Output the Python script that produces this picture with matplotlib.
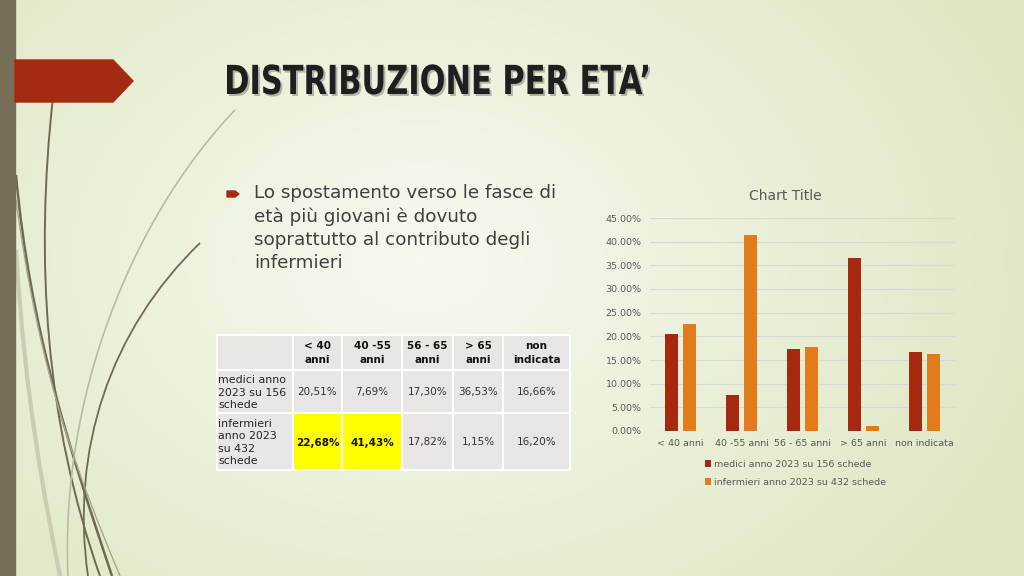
import numpy as np
import matplotlib
matplotlib.use('Agg')
import matplotlib.pyplot as plt
from matplotlib.patches import Rectangle, Polygon, PathPatch
from matplotlib.path import Path
from matplotlib.textpath import TextPath
from matplotlib.font_manager import FontProperties
from matplotlib.transforms import Affine2D

# data
categories = ['< 40 anni', '40 -55 anni', '56 - 65 anni', '> 65 anni', 'non indicata']
header_labels = ['< 40\nanni', '40 -55\nanni', '56 - 65\nanni', '> 65\nanni', 'non\nindicata']
medici = [20.51, 7.69, 17.30, 36.53, 16.66]
infermieri = [22.68, 41.43, 17.82, 1.15, 16.20]
series_names = ['medici anno 2023 su 156 schede', 'infermieri anno 2023 su 432 schede']
row_labels = ['medici anno\n2023 su 156\nschede', 'infermieri\nanno 2023\nsu 432\nschede']
highlight = [(1, 0), (1, 1)]  # (row, col) yellow cells
bullet_text = 'Lo spostamento verso le fasce di\netà più giovani è dovuto\nsoprattutto al contributo degli\ninfermieri'
title = 'DISTRIBUZIONE PER ETA\u2019'

RED = '#a5290f'
ORANGE = '#e07d1a'
GRAY = '#595959'

W, H = 1024, 576
fig = plt.figure(figsize=(W / 100, H / 100), dpi=100)

# background in pixel coordinates
bg = fig.add_axes([0, 0, 1, 1])
bg.set_xlim(0, W)
bg.set_ylim(H, 0)
bg.axis('off')
yy, xx = np.mgrid[0:H, 0:W]
d = np.sqrt(((xx - 420) / 700.0) ** 2 + ((yy - 260) / 520.0) ** 2)
d = np.clip(d, 0, 1)[..., None]
inner = np.array([247, 249, 240]) / 255.0
outer = np.array([220, 230, 192]) / 255.0
img = inner * (1 - d) + outer * d
bg.imshow(img, extent=(0, W, H, 0), aspect='auto', zorder=0)

# left strip and banner
bg.add_patch(Rectangle((0, 0), 15, H, color='#776f58', zorder=2))
bg.add_patch(Polygon([(15, 60), (113, 60), (133, 81), (113, 102), (15, 102)],
                     closed=True, color='#a52a12', zorder=2))

# decorative curves
def curve(pts, color, lw, alpha=1.0):
    codes = [Path.MOVETO] + [Path.CURVE4] * (len(pts) - 1)
    bg.add_patch(PathPatch(Path(pts, codes), fill=False, edgecolor=color,
                           lw=lw, alpha=alpha, zorder=1))

curve([(16, 175), (30, 330), (70, 450), (112, 576)], '#6f6a52', 1.8)
curve([(53, 97), (35, 260), (45, 420), (100, 576)], '#6f6a52', 1.4)
curve([(200, 243), (110, 330), (70, 450), (88, 576)], '#6f6a52', 1.3)
curve([(235, 110), (130, 220), (60, 400), (68, 576)], '#b9bca4', 1.2)
curve([(16, 250), (25, 400), (45, 500), (60, 576)], '#c9cdb3', 3.0)
curve([(16, 200), (40, 380), (80, 480), (120, 576)], '#a8a88e', 1.0)

# title drawn as a horizontally condensed text path
tp = TextPath((0, 0), title, size=40, prop=FontProperties(family='DejaVu Sans', weight='bold'))
ext = tp.get_extents()
sx = 421.0 / ext.width
for dx, dy, col, a in [(2, 2, '#000000', 0.25), (0, 0, '#1f1f1f', 1.0)]:
    tr = Affine2D().translate(-ext.x0, 0).scale(sx, -1).translate(227 + dx, 94 + dy)
    bg.add_patch(PathPatch(tr.transform_path(tp), facecolor=col, edgecolor='none',
                           alpha=a, zorder=3))

# bullet
bg.add_patch(Polygon([(227, 191), (235, 191), (239, 194), (235, 197), (227, 197)],
                     closed=True, color='#a52a12', zorder=3))
bg.text(254, 184, bullet_text, fontsize=13.2, color='#404040', va='top', ha='left',
        linespacing=1.37, zorder=3)

# table
col_edges = [217, 293, 342, 402, 453, 503, 570]
row_edges = [335, 370, 413, 470]
for r in range(3):
    for c in range(6):
        fc = '#e8e6e5'
        if r > 0 and (r - 1, c - 1) in highlight:
            fc = '#ffff00'
        bg.add_patch(Rectangle((col_edges[c], row_edges[r]),
                               col_edges[c + 1] - col_edges[c],
                               row_edges[r + 1] - row_edges[r],
                               facecolor=fc, edgecolor='white', lw=1.5, zorder=2))
for c, lab in enumerate(header_labels):
    cx = (col_edges[c + 1] + col_edges[c + 2]) / 2
    bg.text(cx, 353, lab, fontsize=7.5, fontweight='bold', ha='center', va='center',
            color='#111111', linespacing=1.4, zorder=3)
for r, (lab, vals) in enumerate(zip(row_labels, [medici, infermieri])):
    cy = (row_edges[r + 1] + row_edges[r + 2]) / 2 + 1
    bg.text(218, cy, lab, fontsize=7.9, ha='left', va='center', color='#262626',
            linespacing=1.32, zorder=3)
    for c, v in enumerate(vals):
        cx = (col_edges[c + 1] + col_edges[c + 2]) / 2
        bold = (r, c) in highlight
        bg.text(cx, cy, f'{v:.2f}%'.replace('.', ','), fontsize=7.5,
                fontweight='bold' if bold else 'normal', ha='center', va='center',
                color='#111111' if bold else '#333333', zorder=3)

# chart
ax = fig.add_axes([650 / W, (H - 431) / H, 305 / W, 213 / H])
ax.patch.set_alpha(0)
x = np.arange(len(categories))
bw = 0.22
ax.bar(x - 0.145, [v / 100 for v in medici], bw, color=RED, label=series_names[0], zorder=3)
ax.bar(x + 0.145, [v / 100 for v in infermieri], bw, color=ORANGE, label=series_names[1], zorder=3)
ax.set_xlim(-0.5, len(categories) - 0.5)
ax.set_ylim(0, 0.45)
ax.set_yticks(np.arange(0, 0.451, 0.05))
ax.set_yticklabels([f'{t * 100:.2f}%' for t in np.arange(0, 0.451, 0.05)])
ax.set_xticks(x)
ax.set_xticklabels(categories)
ax.tick_params(axis='both', length=0, labelsize=6.8, colors=GRAY)
ax.tick_params(axis='x', pad=6)
ax.tick_params(axis='y', pad=6)
ax.grid(axis='y', color='#d9d9d9', lw=0.8, zorder=0)
for s in ax.spines.values():
    s.set_visible(False)
fig.text(785 / W, 1 - 196 / H, 'Chart Title', fontsize=10, color=GRAY, ha='center', va='center')
fig.legend(loc='upper left', bbox_to_anchor=(700 / W, 1 - 455 / H), frameon=False,
           fontsize=6.8, handlelength=0.7, handleheight=0.7, handletextpad=0.25,
           labelspacing=0.95, labelcolor=GRAY, borderpad=0)

fig.savefig('out.png', dpi=100)
